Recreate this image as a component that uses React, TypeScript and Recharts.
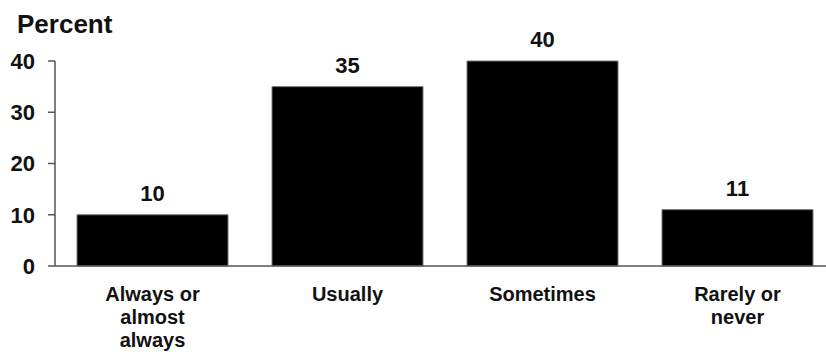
import { BarChart, Bar, XAxis, YAxis, LabelList } from "recharts";

const categories = ["Always or\nalmost\nalways", "Usually", "Sometimes", "Rarely or\nnever"];
const percents = [10, 35, 40, 11];
const yTicks = [0, 10, 20, 30, 40];

const data = categories.map((c, i) => ({ cat: c, pct: percents[i] }));

const FONT = '"Liberation Sans", Arial, sans-serif';

function CatTick(props: any) {
  const { x, y, payload } = props;
  const lines = String(payload.value).split("\n");
  return (
    <text x={x} y={y} textAnchor="middle" fontFamily={FONT} fontWeight="bold" fontSize={20} fill="#111">
      {lines.map((l, i) => (
        <tspan key={i} x={x} y={y + 35 + i * 23}>
          {l}
        </tspan>
      ))}
    </text>
  );
}

export default function App() {
  return (
    <div style={{ position: "absolute", left: 0, top: 0, width: 826, height: 352, overflow: "hidden", background: "#fff" }}>
      <div
        style={{
          position: "absolute",
          left: 17,
          top: 11,
          fontFamily: FONT,
          fontWeight: "bold",
          fontSize: 26,
          lineHeight: 1,
          color: "#111",
        }}
      >
        Percent
      </div>
      <BarChart
        width={835}
        height={352}
        data={data}
        margin={{ top: 61, right: 0, left: 0, bottom: 0 }}
        barCategoryGap={22}
      >
        <XAxis
          dataKey="cat"
          height={86}
          tickLine={false}
          tickSize={0}
          tickMargin={0}
          axisLine={{ stroke: "#555", strokeWidth: 1.5 }}
          tick={<CatTick />}
          interval={0}
        />
        <YAxis
          width={55}
          domain={[0, 40]}
          ticks={yTicks}
          tickSize={7}
          tickMargin={13}
          axisLine={{ stroke: "#555", strokeWidth: 1.5 }}
          tickLine={{ stroke: "#555", strokeWidth: 1.5 }}
          tick={{ fontFamily: FONT, fontWeight: "bold", fontSize: 22, fill: "#111" }}
        />
        <Bar dataKey="pct" fill="#000" stroke="#777" strokeWidth={1} isAnimationActive={false}>
          <LabelList
            dataKey="pct"
            position="top"
            offset={14}
            style={{ fontFamily: FONT, fontWeight: "bold", fontSize: 22, fill: "#111" }}
          />
        </Bar>
      </BarChart>
    </div>
  );
}
